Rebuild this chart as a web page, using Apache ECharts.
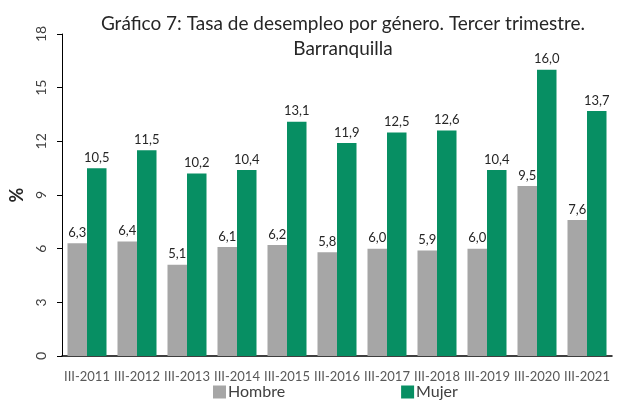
<!DOCTYPE html>
<html><head><meta charset="utf-8">
<script src="https://cdn.jsdelivr.net/npm/echarts@6/dist/echarts.min.js"></script>
<style>html,body{margin:0;padding:0;background:#fff}#c{width:618px;height:400px}</style>
</head><body><div id="c"></div>
<script>
const categories = ["III-2011","III-2012","III-2013","III-2014","III-2015","III-2016","III-2017","III-2018","III-2019","III-2020","III-2021"];
const hombre = [6.3,6.4,5.1,6.1,6.2,5.8,6.0,5.9,6.0,9.5,7.6];
const mujer = [10.5,11.5,10.2,10.4,13.1,11.9,12.5,12.6,10.4,16.0,13.7];
const yTicks = [0,3,6,9,12,15,18];

const font = 'Lato, "Open Sans", sans-serif';
const chart = echarts.init(document.getElementById('c'));
const lbl = {show:true, position:'top', distance:4, color:'#262626', fontFamily:font, fontSize:13,
  formatter: p => p.value.toFixed(1).replace('.', ',')};
chart.setOption({
  animation:false,
  title:{text:"Gráfico 7: Tasa de desempleo por género. Tercer trimestre.\nBarranquilla",
    left:338, textAlign:'center', top:6,
    textStyle:{fontFamily:font, fontSize:19, fontWeight:'normal', color:'#262626', lineHeight:25}},
  legend:{bottom:-5, left:208, itemGap:116, itemWidth:13, itemHeight:13, icon:'rect',
    textStyle:{fontFamily:font, fontSize:16, color:'#404040', padding:[0,0,0,-3]},
    data:['Hombre','Mujer']},
  grid:{left:58, right:6, top:34, bottom:44},
  xAxis:{type:'category', data:categories,
    axisLine:{lineStyle:{color:'#000', width:1.5}}, axisTick:{show:false},
    axisLabel:{color:'#595959', fontFamily:font, fontSize:13, margin:14, interval:0}},
  yAxis:{type:'value', min:yTicks[0], max:yTicks[yTicks.length-1], interval:3,
    name:'%', nameLocation:'middle', nameGap:36, nameRotate:90,
    nameTextStyle:{fontFamily:font, fontSize:18, fontWeight:'bold', color:'#262626'},
    axisLine:{show:true, lineStyle:{color:'#000'}}, axisTick:{show:true, length:5, lineStyle:{color:'#000'}},
    splitLine:{show:false},
    axisLabel:{rotate:90, color:'#404040', fontFamily:font, fontSize:14, margin:14}},
  series:[
    {name:'Hombre', type:'bar', data:hombre, barGap:'0%', barCategoryGap:'22%',
      itemStyle:{color:'#A6A6A6'}, label:lbl},
    {name:'Mujer', type:'bar', data:mujer, barGap:'0%', barCategoryGap:'22%',
      itemStyle:{color:'#078F63'}, label:lbl}
  ]
});
</script></body></html>
